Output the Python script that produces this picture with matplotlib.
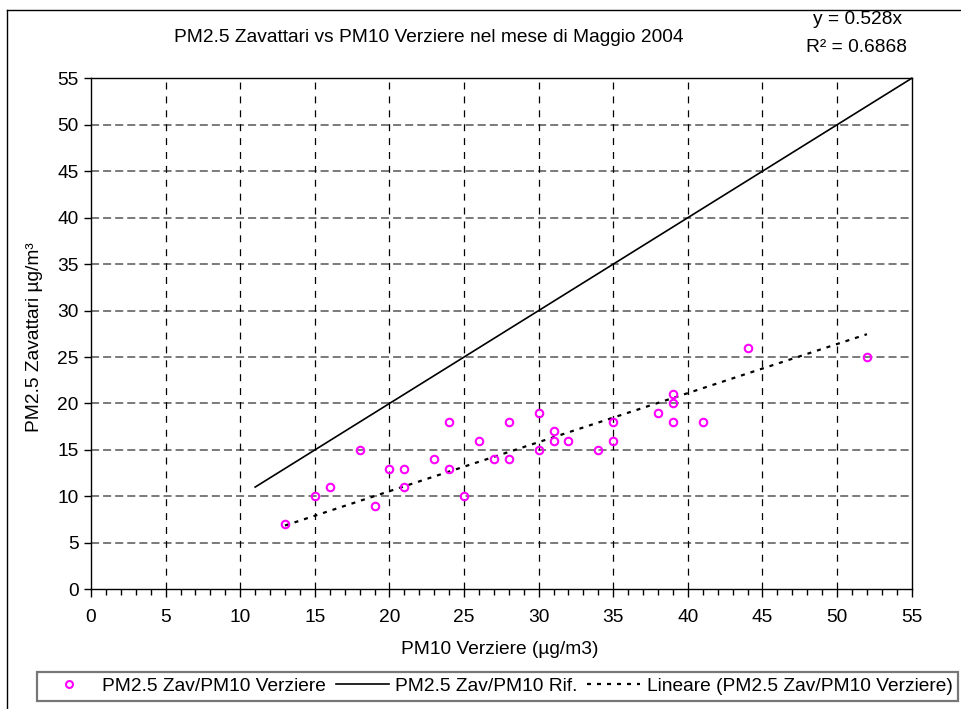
import matplotlib
matplotlib.use('Agg')

import matplotlib.pyplot as plt
from matplotlib.lines import Line2D
from matplotlib.ticker import MultipleLocator

# PM10 Verziere vs PM2.5 Zavattari, May 2004 (one point per day)
pm10_verziere = [13, 15, 16, 18, 19, 20, 21, 21, 23, 24, 24, 25, 26, 27, 28, 28,
                 30, 30, 31, 31, 32, 34, 35, 35, 38, 39, 39, 39, 41, 44, 52]
pm25_zavattari = [7, 10, 11, 15, 9, 13, 13, 11, 14, 18, 13, 10, 16, 14, 18, 14,
                  19, 15, 17, 16, 16, 15, 18, 16, 19, 21, 20, 18, 18, 26, 25]

# reference line y = x and linear trend through origin
rif_x = [11, 55]
slope = 0.528
r2 = 0.6868
trend_x = [min(pm10_verziere), max(pm10_verziere)]

plt.rcParams['font.family'] = ['Liberation Sans', 'DejaVu Sans']
plt.rcParams['lines.scale_dashes'] = False

W, H = 961, 709
DPI = 100
fig = plt.figure(figsize=(W / DPI, H / DPI), dpi=DPI)
ax = fig.add_axes([91 / W, 1 - 589.3 / H, (911.7 - 91) / W, (589.3 - 78.3) / H])

fs = 13.8

# grid: gray dashed horizontals, thin black dashed verticals
for yv in range(5, 56, 5):
    ax.axhline(yv, color='#707070', lw=1.3, dashes=(5.8, 2.9), zorder=1)
for xv in range(5, 55, 5):
    ax.axvline(xv, color='black', lw=0.9, dashes=(5, 5), zorder=1)

ax.plot(rif_x, rif_x, color='black', lw=1.2, zorder=3, clip_on=False)
ax.plot(trend_x, [slope * v for v in trend_x], color='black', lw=1.6,
        dashes=(2.9, 4.3), zorder=3)
ax.plot(pm10_verziere, pm25_zavattari, 'o', ms=5.4, mfc='none', mec='#FF00FF',
        mew=1.5, zorder=4)

ax.set_xlim(0, 55)
ax.set_ylim(0, 55)
ax.xaxis.set_major_locator(MultipleLocator(5))
ax.xaxis.set_minor_locator(MultipleLocator(1))
ax.yaxis.set_major_locator(MultipleLocator(5))
ax.tick_params(axis='x', which='major', direction='out', length=6, width=1,
               labelsize=fs, pad=8)
ax.tick_params(axis='x', which='minor', direction='out', length=4, width=1)
ax.tick_params(axis='y', which='major', direction='out', length=5, width=1,
               labelsize=fs, pad=4)
for s in ax.spines.values():
    s.set_color('black')
    s.set_linewidth(1)

fig.text(35 / W, 1 - 337 / H, 'PM2.5 Zavattari µg/m³', rotation=90,
         ha='center', va='center', fontsize=fs)
fig.text(500 / W, 1 - 650 / H, 'PM10 Verziere (µg/m3)', ha='center',
         va='center', fontsize=fs)
fig.text(429 / W, 1 - 38 / H, 'PM2.5 Zavattari vs PM10 Verziere nel mese di Maggio 2004',
         ha='center', va='center', fontsize=fs)
fig.text(858 / W, 1 - 20 / H, 'y = %.3fx' % slope, ha='center', va='center',
         fontsize=fs)
fig.text(856 / W, 1 - 48 / H, 'R² = %.4f' % r2, ha='center', va='center',
         fontsize=fs)

# outer chart frame (right and bottom edges lie outside the picture)
fig.add_artist(Line2D([6.5 / W, 6.5 / W], [0, 1 - 9.5 / H], color='black',
                      lw=1, transform=fig.transFigure))
fig.add_artist(Line2D([6.5 / W, 1], [1 - 9.5 / H, 1 - 9.5 / H], color='black',
                      lw=1, transform=fig.transFigure))

handles = [
    Line2D([], [], ls='none', marker='o', ms=5, mfc='none', mec='#FF00FF', mew=1.5),
    Line2D([], [], color='black', lw=1.2),
    Line2D([], [], color='black', lw=1.6, dashes=(2.9, 4.3)),
]
labels = ['PM2.5 Zav/PM10 Verziere', 'PM2.5 Zav/PM10 Rif.',
          'Lineare (PM2.5 Zav/PM10 Verziere)']
leg = fig.legend(handles, labels, loc='upper left', ncol=3,
                 bbox_to_anchor=(37.3 / W, 1 - 672 / H), fontsize=fs,
                 frameon=True, fancybox=False, shadow=False, borderpad=0.3,
                 handlelength=2.75, handletextpad=0.35, columnspacing=0.5,
                 borderaxespad=0)
leg.get_frame().set_edgecolor('#555555')
leg.get_frame().set_linewidth(1.6)

fig.savefig('out.png', dpi=DPI)
